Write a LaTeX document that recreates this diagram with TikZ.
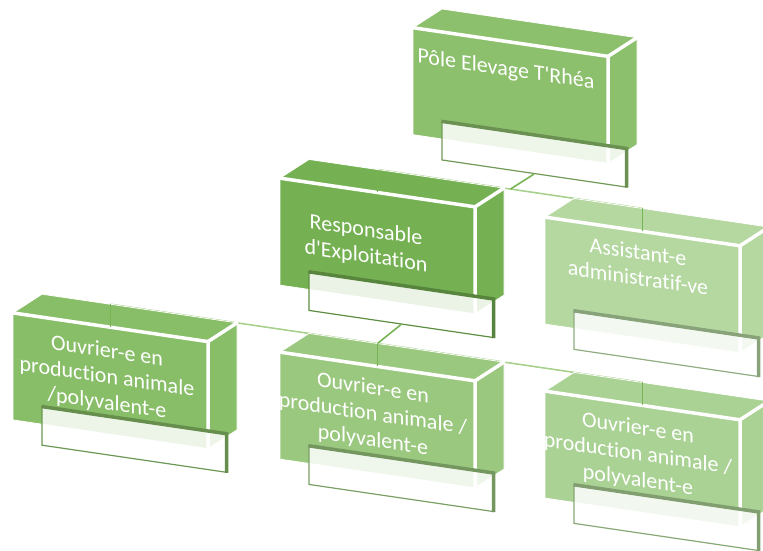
\documentclass[tikz,border=0pt]{standalone}
\usepackage{fontspec}
\setmainfont{Carlito}[Ligatures={NoCommon,NoContextual,NoRequired}]
\definecolor{cPole}{HTML}{8DC06D}
\definecolor{cResp}{HTML}{75B152}
\definecolor{cAssi}{HTML}{B5D8A1}
\definecolor{cOuvL}{HTML}{88BE68}
\definecolor{cOuvM}{HTML}{9AC87E}
\definecolor{cOuvR}{HTML}{AAD294}
\definecolor{lineH}{HTML}{A9D18E}
\definecolor{lineV}{HTML}{78B354}
\tikzset{
  facefill/.style={draw=white, line width=0.8pt, line join=round},
  frontface/.style={rectangle, minimum width=195pt, minimum height=107pt, inner sep=0pt,
    transform shape, draw=white, line width=0.8pt},
  slab/.style={rectangle, minimum width=184pt, minimum height=38pt, inner sep=0pt,
    transform shape, fill=white, fill opacity=0.85, line width=1.2pt},
  edgeline/.style={draw=white, line width=3.5pt, line cap=round, line join=round},
  hconn/.style={draw=lineH, line width=1.6pt},
  vconn/.style={draw=lineV, line width=1.6pt},
  lbl/.style={text=white, align=center, font=\fontsize{22}{26}\selectfont,
    transform shape, inner sep=0pt},
}
\newcommand\cubebox[4]{%
  \path[fill=#4, facefill] ({#2+29},{#3-23}) -- ({#2+224},{#3-23}) -- ({#2+195},{#3}) -- ({#2},{#3}) -- cycle;
  \path[fill=#4, facefill] ({#2+195},{#3}) -- ({#2+224},{#3-23}) -- ({#2+224},{#3+84}) -- ({#2+195},{#3+107}) -- cycle;
  \node[frontface, fill=#4] (#1) at ({#2+97.5},{#3+53.5}) {};
  \path[edgeline] ({#2},{#3}) -- ({#2+195},{#3}) -- ({#2+195},{#3+107});
  \path[edgeline] ({#2+195},{#3}) -- ({#2+224},{#3-23});
  \node[slab, draw=#4!80!black] (#1-w) at ({#2+121},{#3+109}) {};
  \draw[#4!75!black, line width=3.5pt] (#1-w.north west) -- (#1-w.north east) -- (#1-w.south east);
}
\begin{document}
\begin{tikzpicture}[x=1pt, y=-1pt]
\path[use as bounding box] (0,0) rectangle (763,550);
\clip (0,0) rectangle (763,550);
\begin{scope}[yslant=-0.147]
  % junction points
  \coordinate (j0) at (510.5,114);
  \coordinate (j1L) at (377.5,114);
  \coordinate (j1R) at (642.5,114);
  \coordinate (j2L) at (110.5,288);
  \coordinate (j2M) at (377.5,288);
  \coordinate (j2R) at (642.5,288);
  % horizontal connectors (behind boxes)
  \draw[hconn] (j1L) -- (j1R);
  \draw[hconn] (j2L) -- (j2R);
  % boxes
  \cubebox{pole}{413}{-33}{cPole}
  \cubebox{resp}{280}{137}{cResp}
  \cubebox{assi}{545}{137}{cAssi}
  \cubebox{ouvL}{13}{311}{cOuvL}
  \cubebox{ouvM}{280}{311}{cOuvM}
  \cubebox{ouvR}{545}{311}{cOuvR}
  % vertical connectors
  \draw[vconn] (pole-w.south) -- (j0);
  \draw[vconn] (j1L) -- (resp.north);
  \draw[vconn] (j1R) -- (assi.north);
  \draw[vconn] (resp-w.south) -- (j2M);
  \draw[vconn] (j2L) -- (ouvL.north);
  \draw[vconn] (j2M) -- (ouvM.north);
  \draw[vconn] (j2R) -- (ouvR.north);
  % labels
  \node[lbl] (tPole) at (506,-4.4) {Pôle Elevage T\textquotesingle Rhéa};
  \node[lbl] (tResp) at (366,190) {Responsable\\d\textquotesingle Exploitation};
  \node[lbl] (tAssi) at (638,171) {Assistant-e\\administratif-ve};
  \node[lbl] (tOuvL) at (107,362) {Ouvrier-e en\\production animale\\/polyvalent-e};
  \node[lbl] (tOuvM) at (373,360) {Ouvrier-e en\\production animale /\\polyvalent-e};
  \node[lbl] (tOuvR) at (638,361) {Ouvrier-e en\\production animale /\\polyvalent-e};
\end{scope}
\end{tikzpicture}
\end{document}
